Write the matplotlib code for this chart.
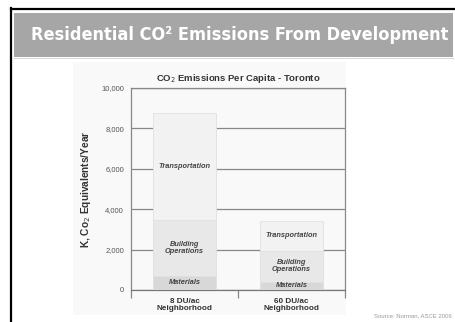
import matplotlib
matplotlib.use("Agg")
import matplotlib.pyplot as plt
from matplotlib.patches import Rectangle

plt.rcParams['font.family'] = ['Liberation Sans', 'DejaVu Sans']

# data
categories = ["8 DU/ac\nNeighborhood", "60 DU/ac\nNeighborhood"]
materials = [700, 400]
building = [2750, 1550]
transport = [5300, 1450]
segment_names = ["Materials", "Building\nOperations", "Transportation"]
yticks = [0, 2000, 4000, 6000, 8000, 10000]

W, H = 456, 322
fig = plt.figure(figsize=(W / 100, H / 100), dpi=100)
fig.patch.set_facecolor("white")

def fx(x):
    return x / W

def fy(y):
    return 1 - y / H

# slide frame
fig.add_artist(plt.Line2D([fx(11.5), fx(11.5)], [fy(8), fy(322)], color="black", lw=1.6))
fig.add_artist(plt.Line2D([fx(11), 1], [fy(8.5), fy(8.5)], color="black", lw=1.6))
fig.add_artist(Rectangle((fx(14), fy(57)), fx(453) - fx(14), fy(13) - fy(57),
                         facecolor="#a6a6a6", edgecolor="none"))
fig.add_artist(plt.Line2D([fx(14), fx(453)], [fy(57.5), fy(57.5)], color="#d0d0d0", lw=0.6))
fig.text(fx(240), fy(35), "Residential CO\u00b2 Emissions From Development",
         ha="center", va="center", color="white", fontsize=13.0, fontweight="bold",
         family="DejaVu Sans", fontstretch="condensed")

# chart panel
fig.add_artist(Rectangle((fx(73), fy(315)), fx(346) - fx(73), fy(62) - fy(315),
                         facecolor="#f9f9f9", edgecolor="none", zorder=-1))

ax = fig.add_axes([fx(131), fy(290), fx(345) - fx(131), fy(88) - fy(290)])
ax.set_facecolor("none")

x = [0, 1]
w = 0.58
cols = ["#d8d8d8", "#e8e8e8", "#f2f2f2"]
bottoms = [0, 0]
for vals, c, name in zip([materials, building, transport], cols, segment_names):
    ax.bar(x, vals, w, bottom=bottoms, color=c, edgecolor="#e0e0e0", lw=0.6, zorder=3)
    for i in range(2):
        ax.text(x[i], bottoms[i] + vals[i] / 2, name, ha="center", va="center",
                fontsize=5.3, style="italic", fontweight="bold", color="#444444",
                linespacing=1.0, zorder=4)
    bottoms = [b + v for b, v in zip(bottoms, vals)]

ax.set_xlim(-0.5, 1.5)
ax.set_ylim(0, 10000)
ax.set_yticks(yticks)
ax.set_yticklabels(["{:,}".format(t) for t in yticks], fontsize=5.5, color="#555555")
ax.tick_params(axis="y", length=0, pad=5)
ax.grid(axis="y", color="#888888", lw=0.9, zorder=0)
ax.set_xticks(x)
ax.set_xticklabels(categories, fontsize=5.9, fontweight="bold", color="#333333", linespacing=1.0)
ax.set_xticks([-0.5, 0.5, 1.5], minor=True)
ax.tick_params(axis="x", which="major", length=0, pad=6)
ax.tick_params(axis="x", which="minor", length=6, color="#888888", width=0.9)
for s in ax.spines.values():
    s.set_color("#888888")
    s.set_linewidth(0.9)
ax.spines["bottom"].set_color("#777777")

ax.set_ylabel("K, Co$_2$ Equivalents/Year", fontsize=7.3, fontweight="bold", color="#333333", labelpad=6)
ax.set_title("CO$_2$ Emissions Per Capita - Toronto", fontsize=6.8, fontweight="bold",
             color="#333333", pad=5)

fig.text(fx(452), fy(316), "Source: Norman, ASCE 2006", ha="right", va="center",
         fontsize=4.3, color="#999999")

plt.savefig("out.png", dpi=100)
